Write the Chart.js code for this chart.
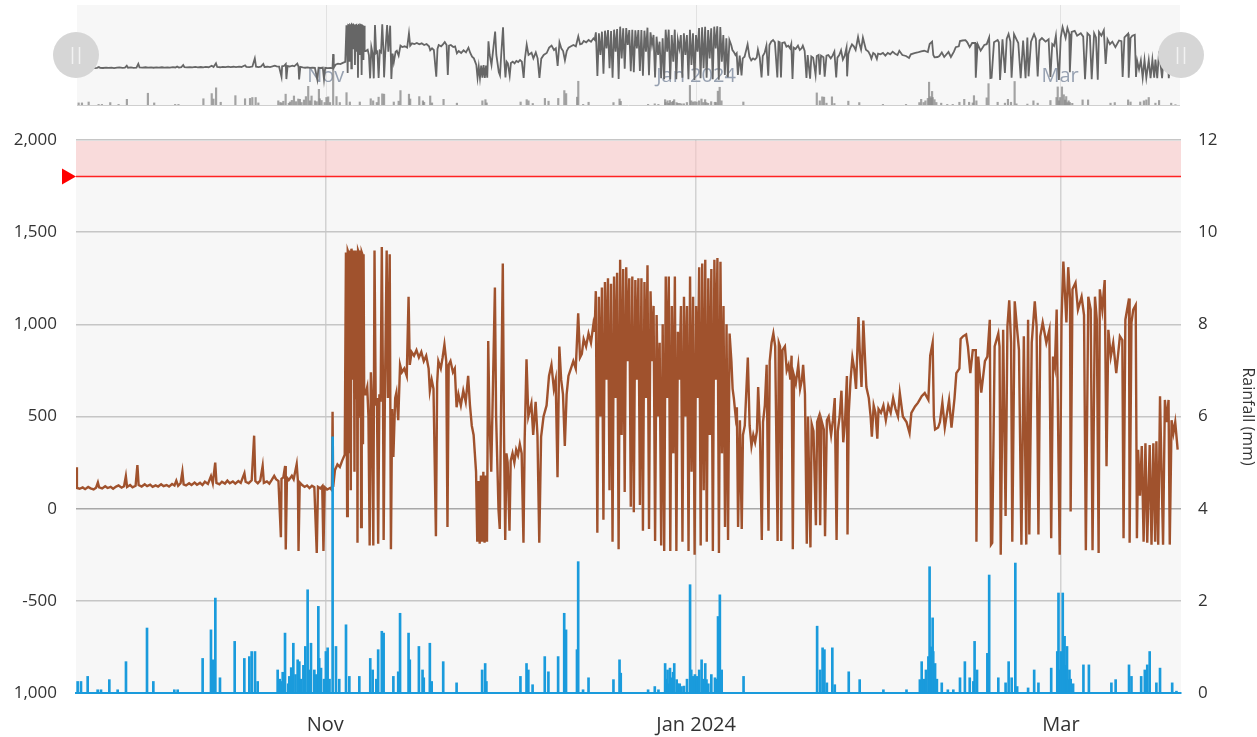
<!DOCTYPE html>
<html><head><meta charset="utf-8">
<script src="https://cdn.jsdelivr.net/npm/chart.js@4.4.0/dist/chart.umd.min.js"></script>
<style>
html,body{margin:0;padding:0;background:#fff;width:1257px;height:737px;overflow:hidden}
canvas{position:absolute;left:0;top:0}
</style></head><body>
<canvas id="main" width="1257" height="737"></canvas>
<canvas id="nav" width="1257" height="112"></canvas>
<script>
// x values are days since 2023-09-21 00:00
const xMin = 0, xMax = 181.75;
const xTickDays = [41, 102, 162];
const xTickLabels = ['Nov', 'Jan 2024', 'Mar'];
const yLeftTicks = [-1000, -500, 0, 500, 1000, 1500, 2000];
const yLeftLabels = ['1,000', '-500', '0', '500', '1,000', '1,500', '2,000'];
const yRightTicks = [0, 2, 4, 6, 8, 10, 12];
const alarmLevel = 1800, alarmBandTop = 2000;

// level series [day, value]
const levelSepOct = [[0,225],[0.15,112],[0.6,108],[1.1,115],[1.5,106],[2.0,118],[2.4,110],[2.9,104],[3.3,114],[3.6,142],[3.8,116],[4.3,110],[4.8,122],[5.2,112],[5.7,118],[6.1,108],[6.6,120],[7.0,126],[7.5,114],[7.9,122],[8.2,176],[8.4,118],[8.9,128],[9.3,116],[9.8,124],[10.1,236],[10.3,128],[10.8,120],[11.3,132],[11.7,122],[12.2,130],[12.6,118],[13.1,126],[13.5,120],[14.0,132],[14.4,122],[14.9,128],[15.3,120],[15.8,134],[16.2,126],[16.5,152],[16.8,124],[17.2,138],[17.5,200],[17.7,132],[18.1,126],[18.6,138],[19.0,128],[19.5,142],[19.9,130],[20.4,140],[20.8,128],[21.2,146],[21.7,134],[22.2,176],[22.5,138],[22.9,250],[23.1,140],[23.6,132],[24.0,146],[24.5,136],[24.9,152],[25.3,138],[25.8,148],[26.2,136],[26.7,150],[27.1,140],[27.7,192],[27.9,146],[28.4,138],[28.9,154],[29.3,396],[29.5,150],[29.9,138],[30.3,152],[30.7,232],[30.9,140],[31.4,148],[31.8,136],[32.2,156],[32.6,178],[32.9,160],[33.3,150],[33.7,-155],[33.8,162],[34.1,170],[34.4,232],[34.5,-222],[34.7,168],[35.0,155],[35.5,178],[35.8,160],[36.3,242],[36.5,150],[36.6,-230],[36.8,142],[37.2,128],[37.6,118],[38.0,126],[38.4,112],[38.8,124],[39.2,116],[39.6,-240],[39.8,118],[40.2,110],[40.5,122],[40.7,-230],[40.9,116],[41.3,104],[41.8,112],[42.1,100],[42.2,526],[42.3,118],[42.6,210],[43.0,240],[43.4,226],[43.8,262],[44.2,292]];
const levelNov = [[44.4,1390],[44.5,800],[44.6,-40],[44.7,1400],[44.8,1390],[44.9,300],[45.0,1400],[45.1,1380],[45.2,100],[45.3,1410],[45.4,1390],[45.5,700],[45.6,1400],[45.7,1380],[45.8,200],[45.9,1390],[46.0,1400],[46.1,600],[46.2,1380],[46.3,-185],[46.4,1400],[46.5,1390],[46.6,500],[46.7,1400],[46.8,1380],[46.9,-100],[47.0,1390],[47.1,1380],[47.2,350],[47.3,1380],[47.4,620],[47.6,620],[47.9,660],[48.1,500],[48.3,-200],[48.5,740],[48.7,560],[48.9,-200],[49.1,1400],[49.3,560],[49.5,600],[49.7,-190],[49.9,620],[50.1,580],[50.3,1420],[50.5,620],[50.6,-170],[50.8,590],[51.1,1400],[51.3,600],[51.6,1380],[51.8,-220],[52.0,540],[52.2,280],[52.5,600],[52.7,630],[53.0,480],[53.3,780],[53.6,740],[54.0,760],[54.4,720],[54.7,1150],[54.9,780],[55.2,850],[55.6,830],[56.0,860],[56.4,820],[56.8,850],[57.2,800],[57.6,830],[58.0,760],[58.2,640],[58.5,700],[58.8,650],[59.2,-150],[59.4,680],[59.6,800],[60.0,760],[60.3,820],[60.6,890],[60.9,800],[61.1,-100],[61.3,780],[61.6,800],[62.0,740],[62.3,760],[62.6,550],[62.9,620],[63.3,560],[63.7,640],[64.1,580],[64.5,720],[64.8,560],[65.1,450],[65.4,400],[65.6,300],[65.8,200],[66.0,-180],[66.2,150],[66.4,-190],[66.6,180],[66.8,-180],[67.0,200],[67.2,-185],[67.4,180],[67.6,-180],[67.8,910],[68.0,500],[68.3,200],[68.6,700],[68.9,1200],[69.1,500],[69.5,-10],[69.7,-110],[69.9,500]];
const levelDec = [[70.2,1330],[70.4,400],[70.6,-170],[70.8,300],[71.0,250],[71.3,-120],[71.5,260],[71.8,300],[72.1,250],[72.4,320],[72.7,290],[73.0,350],[73.3,300],[73.6,-185],[73.8,380],[74.1,810],[74.4,500],[74.9,570],[75.2,400],[75.6,580],[75.9,400],[76.2,-185],[76.5,390],[76.9,500],[77.4,560],[77.8,720],[78.2,780],[78.6,650],[78.9,700],[79.2,170],[79.5,880],[79.8,700],[80.1,620],[80.4,340],[80.7,620],[81.0,720],[81.4,760],[81.8,800],[82.2,760],[82.6,1060],[82.9,820],[83.2,840],[83.5,920],[83.9,880],[84.3,950],[84.7,900],[85.1,1000],[85.3,960],
[85.5,1180],[85.75,-130],[86.0,1150],[86.25,500],[86.5,1200],[86.75,-60],[87.0,1230],[87.25,700],[87.5,1250],[87.75,100],[88.0,1220],[88.25,-180],[88.5,1260],[88.75,600],[89.0,1280],[89.25,-220],[89.5,1350],[89.75,400],[90.0,1300],[90.25,90],[90.5,1310],[90.75,800],[91.0,1250],[91.25,10],[91.5,1260],[91.75,-20],[92.0,1240],[92.25,700],[92.5,1250],[92.75,20],[93.0,1250],[93.25,-120],[93.5,1230],[93.75,600],[94.0,1320],[94.25,-110],[94.5,1180],[94.75,800],[95.0,1100],[95.25,-175],[95.5,1050],[95.75,500],[96.0,900],[96.25,-200],[96.5,1000],[96.75,-230],[97.0,1260],[97.25,600],[97.5,1260],[97.75,-230],[98.0,1100],[98.25,300],[98.5,1260],[98.75,-230],[99.0,960],[99.25,700],[99.5,1100],[99.75,-180],[100.0,1150],[100.25,500],[100.5,1100],[100.75,-230],[101.0,1260],[101.25,200],[101.5,1150],[101.75,-250]];
const levelJan = [[102.0,1100],[102.25,600],[102.5,1310],[102.75,-200],[103.0,1330],[103.25,100],[103.5,1350],[103.75,-180],[104.0,1250],[104.25,400],[104.5,1300],[104.75,-230],[105.0,1350],[105.25,700],[105.5,1360],[105.75,-240],[106.0,1340],[106.25,300],[106.5,1100],[106.75,-100],[107.0,1000],[107.25,-170],[107.5,950],[107.8,800],[108.0,650],[108.2,600],[108.5,500],[108.7,550],[108.9,-100],[109.2,480],[109.5,-110],[109.7,400],[110.0,450],[110.5,820],[110.8,450],[111.1,340],[111.4,400],[111.7,360],[112.0,420],[112.2,660],[112.5,420],[112.8,-170],[113.0,470],[113.3,560],[113.6,780],[113.9,-120],[114.1,800],[114.4,900],[114.7,950],[115.0,880],[115.4,-175],[115.6,900],[115.8,880],[116.0,-175],[116.2,860],[116.6,880],[116.9,750],[117.2,780],[117.5,700],[117.7,830],[117.9,-220],[118.1,720],[118.4,680],[118.8,780],[119.1,650],[119.4,700],[119.6,780],[119.9,620],[120.2,-190],[120.4,500],[120.8,-210],[121.0,460],[121.3,420],[121.7,-90],[121.9,470],[122.2,500],[122.4,-90],[122.6,480],[123.0,430],[123.2,-150],[123.5,480],[123.8,500],[124.2,400],[124.5,480],[124.8,600],[125.1,-170],[125.3,420],[125.6,500],[125.9,640],[126.2,360],[126.5,480],[126.8,720],[126.9,-140],[127.1,520],[127.4,700],[127.7,820],[128.0,760],[128.3,650],[128.7,1040],[128.9,860],[129.2,660],[129.5,1020],[129.8,800],[130.0,660],[130.4,600],[130.7,500],[130.9,390],[131.2,560],[131.5,520],[131.8,380],[132.0,540],[132.4,520],[132.8,560]];
const levelFeb = [[133.2,480],[133.6,560],[134.0,520],[134.4,600],[134.8,540],[135.2,500],[135.5,627],[136.0,500],[136.6,470],[137.1,410],[137.4,520],[138.0,555],[138.5,575],[139.1,610],[139.6,627],[140.2,590],[140.5,830],[140.9,900],[141.1,500],[141.3,430],[141.8,440],[142.1,470],[142.5,575],[142.9,440],[143.6,590],[144.0,440],[144.5,600],[144.8,735],[145.3,760],[145.5,920],[145.9,935],[146.4,945],[146.7,880],[147.1,735],[147.5,860],[148.0,860],[148.1,-180],[148.4,825],[148.9,630],[149.5,800],[149.9,825],[150.3,1025],[150.5,-195],[150.7,-185],[151.1,880],[151.7,950],[151.9,880],[152.1,-250],[152.5,970],[152.9,-40],[153.2,990],[153.5,1130],[153.8,900],[154.0,-180],[154.4,1125],[154.8,970],[155.1,860],[155.5,-195],[155.9,935],[156.3,-195],[156.6,1025],[156.8,-140],[157.2,900],[157.7,1125],[158.0,990],[158.3,-140],[158.6,935],[159.0,1010],[159.6,900],[160.1,970],[160.4,-160],[160.7,825],[161.0,770],[161.3,1080],[161.8,-250]];
const levelMar = [[162.1,1025],[162.4,1340],[162.9,1010],[163.2,1310],[163.5,1140],[163.6,-15],[163.9,1190],[164.4,1225],[164.8,1080],[165.4,1150],[165.8,1050],[166.1,-225],[166.5,1150],[166.9,1080],[167.2,-225],[167.6,1150],[167.9,1025],[168.2,-240],[168.4,1190],[168.8,1080],[169.2,1240],[169.5,230],[169.8,970],[170.2,825],[170.6,900],[171.1,735],[171.7,935],[172.1,915],[172.3,-160],[172.6,1025],[173.2,1140],[173.3,-185],[173.6,1010],[173.9,1080],[174.3,1105],[174.5,-160],[174.7,320],[175.0,70],[175.3,340],[175.6,-180],[175.9,355],[176.2,-185],[176.6,345],[176.9,-195],[177.2,355],[177.5,-180],[177.7,365],[178.0,-195],[178.3,610],[178.8,-195],[179.1,590],[179.4,470],[179.7,590],[179.9,-195],[180.2,480],[180.5,410],[180.8,470],[181.2,320]];

// rainfall [day, mm]
const rainSepOct = [[0.27,0.25],[0.82,0.25],[1.92,0.36],[3.56,0.07],[4.11,0.07],[5.48,0.29],[6.85,0.07],[8.22,0.68],[11.68,1.41],[12.72,0.25],[16.17,0.07],[16.72,0.07],[20.83,0.75],[22.2,1.37],[22.48,0.72],[22.92,2.06],[23.68,0.33],[26.1,1.12],[27.69,0.75],[28.51,0.79],[28.89,0.9],[29.44,0.9],[29.88,0.25],[33.17,0.5],[33.5,0.3],[33.72,0.25],[34.0,0.45],[34.38,1.3],[34.9,0.2],[35.09,0.36],[35.4,0.55],[35.75,1.08],[36.1,0.4],[36.46,0.72],[36.73,0.68],[37.0,0.3],[37.4,0.6],[37.72,1.01],[38.1,2.24],[38.4,0.5],[38.65,1.08],[39.2,0.5],[39.5,0.4],[39.86,1.88],[40.0,0.75],[40.3,0.54],[40.8,0.3],[41.1,0.9],[41.39,0.98],[41.7,0.3]];
const rainNov = [[42.21,5.56],[42.76,1.01],[43.3,0.3],[44.41,1.48],[44.96,0.36],[46.6,0.36],[48.4,0.75],[48.8,0.5],[49.4,0.3],[49.7,0.94],[50.3,1.34],[50.6,1.3],[52.2,0.36],[53.0,0.46],[53.3,1.73],[54.7,1.3],[54.9,0.72],[56.4,1.01],[57.0,0.5],[57.2,0.33],[58.2,1.08],[58.5,0.25],[60.4,0.68],[62.6,0.22],[66.8,0.5],[67.3,0.64],[67.5,0.25]];
const rainDec = [[73.1,0.36],[74.1,0.64],[74.4,0.5],[75.1,0.18],[77.1,0.79],[77.7,0.46],[79.3,0.79],[80.3,1.73],[80.6,1.37],[82.4,0.94],[82.6,2.85],[83.4,0.07],[84.3,0.33],[88.4,0.29],[89.4,0.72],[89.6,0.43],[94.1,0.07],[95.2,0.14],[95.8,0.07],[96.9,0.64],[97.0,0.3],[97.3,0.5],[97.5,0.2],[97.7,0.54],[98.0,0.33],[98.2,0.45],[98.4,0.64],[98.8,0.29],[99.0,0.2],[99.3,0.2],[99.6,0.14],[100.0,0.15],[100.5,0.3],[101.0,2.35],[101.2,0.5],[101.5,0.36],[101.8,0.4]];
const rainJan = [[102.1,0.36],[102.5,0.5],[102.9,0.72],[103.2,0.3],[103.5,0.64],[103.7,0.29],[104.0,0.2],[104.5,0.4],[105.1,0.33],[105.3,0.3],[105.6,1.66],[105.9,2.13],[106.2,0.5],[109.8,0.36],[121.9,1.45],[122.4,0.5],[122.8,0.98],[123.1,0.94],[123.5,0.22],[124.4,0.98],[124.8,0.18],[127.1,0.46],[128.9,0.29],[132.8,0.07]];
const rainFebMar = [[136.6,0.07],[138.8,0.29],[139.1,0.68],[139.5,0.3],[139.8,0.5],[140.2,0.79],[140.4,2.74],[140.6,1.0],[140.7,0.8],[140.9,1.63],[141.0,0.9],[141.3,0.64],[141.6,0.3],[142.4,0.22],[143.4,0.07],[144.3,0.07],[145.4,0.33],[146.2,0.68],[147.0,0.33],[147.6,0.25],[147.8,1.12],[148.2,0.5],[149.9,0.86],[150.2,2.56],[151.7,0.33],[152.9,0.22],[153.4,0.68],[153.9,0.33],[154.5,2.82],[154.8,0.14],[156.6,0.11],[157.6,0.5],[158.3,0.22],[160.4,0.54],[161.4,0.9],[161.6,2.17],[161.8,0.5],[162.0,0.9],[162.3,2.17],[162.6,1.23],[162.8,0.6],[163.0,1.01],[163.2,0.29],[163.4,0.5],[163.6,0.3],[164.0,0.2],[165.7,0.61],[166.6,0.61],[170.3,0.22],[171.0,0.29],[173.2,0.61],[173.6,0.36],[175.2,0.36],[175.8,0.5],[176.2,0.61],[176.6,0.9],[177.7,0.22],[178.3,0.54],[180.3,0.22],[181.0,0.04]];

const toPts = a => a.map(p => ({x: p[0], y: p[1]}));
const levelData = toPts([].concat(levelSepOct, levelNov, levelDec, levelJan, levelFeb, levelMar));
const rainData = toPts([].concat(rainSepOct, rainNov, rainDec, rainJan, rainFebMar));

const BROWN = '#a0522d', RAIN = '#1a9bdc', FONT = '"Open Sans", sans-serif';

const mainDecor = {
  id: 'mainDecor',
  beforeDraw(chart) {
    const {ctx, chartArea: a} = chart;
    ctx.save(); ctx.fillStyle = '#f7f7f7';
    ctx.fillRect(a.left, a.top, a.right - a.left, a.bottom - a.top); ctx.restore();
  },
  beforeDatasetsDraw(chart) {
    const {ctx, chartArea: a, scales} = chart;
    const y1 = scales.y.getPixelForValue(alarmBandTop), y2 = scales.y.getPixelForValue(alarmLevel);
    ctx.save(); ctx.fillStyle = 'rgba(250,200,200,0.6)';
    ctx.fillRect(a.left, y1 + 1, a.right - a.left, y2 - y1 - 1); ctx.restore();
  },
  afterDatasetsDraw(chart) {
    const {ctx, chartArea: a, scales} = chart;
    const y = Math.round(scales.y.getPixelForValue(alarmLevel)) - 0.5;
    ctx.save();
    ctx.strokeStyle = '#f22'; ctx.lineWidth = 1.6;
    ctx.beginPath(); ctx.moveTo(a.left, y); ctx.lineTo(a.right, y); ctx.stroke();
    ctx.fillStyle = '#ff0000';
    ctx.beginPath(); ctx.moveTo(a.left, y); ctx.lineTo(a.left - 14, y - 8); ctx.lineTo(a.left - 14, y + 8); ctx.closePath(); ctx.fill();
    ctx.restore();
  }
};

new Chart(document.getElementById('main'), {
  type: 'line',
  data: { datasets: [
    { type: 'bar', label: 'Rainfall (mm)', data: rainData, yAxisID: 'yR', backgroundColor: RAIN, borderWidth: 0, barThickness: 2, order: 0 },
    { type: 'line', label: 'Level', data: levelData, yAxisID: 'y', borderColor: BROWN, borderWidth: 2.4, pointRadius: 0, tension: 0, order: 1 }
  ]},
  options: {
    responsive: false, animation: false, devicePixelRatio: 1,
    layout: { padding: { top: 140, left: 0, right: 0, bottom: 0 } },
    plugins: { legend: { display: false }, tooltip: { enabled: false } },
    scales: {
      x: { type: 'linear', min: xMin, max: xMax, offset: false,
        afterFit(s) { s.height = 44; },
        afterBuildTicks(s) { s.ticks = xTickDays.map(v => ({value: v})); },
        ticks: { callback: (v, i) => xTickLabels[i], font: { family: FONT, size: 20 }, color: '#333', padding: 20, maxRotation: 0, autoSkip: false },
        grid: { color: '#d2d2d2', lineWidth: 1.5, drawTicks: false, offset: false },
        border: { display: true, color: RAIN, width: 2 } },
      y: { position: 'left', min: -1000, max: 2000,
        afterFit(s) { s.width = 76; },
        afterBuildTicks(s) { s.ticks = yLeftTicks.map(v => ({value: v})); },
        ticks: { callback: (v, i) => yLeftLabels[i], font: { family: FONT, size: 17 }, color: '#333', padding: 19 },
        grid: { color: c => c.tick && c.tick.value === 0 ? '#a8a8a8' : '#c6c6c6', lineWidth: 1.6, drawTicks: false },
        border: { display: false } },
      yR: { position: 'right', min: 0, max: 12,
        afterFit(s) { s.width = 76; },
        afterBuildTicks(s) { s.ticks = yRightTicks.map(v => ({value: v})); },
        ticks: { font: { family: FONT, size: 17 }, color: '#333', padding: 17 },
        grid: { display: false, drawTicks: false }, border: { display: false },
        title: { display: true, text: 'Rainfall (mm)', font: { family: FONT, size: 16 }, color: '#333', padding: { top: 0, bottom: 0 } } }
    }
  },
  plugins: [mainDecor]
});

const navDecor = {
  id: 'navDecor',
  beforeDraw(chart) {
    const {ctx, chartArea: a, scales} = chart;
    ctx.save(); ctx.fillStyle = '#f7f7f7';
    ctx.fillRect(a.left, a.top, a.right - a.left, a.bottom - a.top);
    ctx.strokeStyle = '#e2e2e2'; ctx.lineWidth = 1;
    xTickDays.forEach(d => { const x = Math.round(scales.x.getPixelForValue(d)) + 0.5;
      ctx.beginPath(); ctx.moveTo(x, a.top); ctx.lineTo(x, a.bottom); ctx.stroke(); });
    ctx.strokeStyle = '#cfcfcf';
    ctx.beginPath(); ctx.moveTo(a.left, a.bottom + 0.5); ctx.lineTo(a.right, a.bottom + 0.5); ctx.stroke();
    ctx.restore();
  },
  beforeDatasetsDraw(chart) {
    const {ctx, scales} = chart;
    ctx.save(); ctx.fillStyle = '#97a1b1'; ctx.font = '20px ' + FONT;
    ctx.textAlign = 'center'; ctx.textBaseline = 'middle';
    xTickDays.forEach((d, i) => ctx.fillText(xTickLabels[i], scales.x.getPixelForValue(d), 76));
    ctx.restore();
  },
  afterDraw(chart) {
    const {ctx, chartArea: a} = chart;
    ctx.save();
    [a.left - 1, a.right + 1].forEach(cx => {
      ctx.fillStyle = '#d6d6d6';
      ctx.beginPath(); ctx.arc(cx, 55, 23, 0, Math.PI * 2); ctx.fill();
      ctx.strokeStyle = '#f2f2f2'; ctx.lineWidth = 1.5;
      [-3.5, 3.5].forEach(o => { ctx.beginPath(); ctx.moveTo(cx + o, 47); ctx.lineTo(cx + o, 64); ctx.stroke(); });
    });
    ctx.restore();
  }
};

new Chart(document.getElementById('nav'), {
  type: 'line',
  data: { datasets: [
    { type: 'bar', data: rainData, yAxisID: 'yR', backgroundColor: 'rgba(140,140,140,0.8)', borderWidth: 0, barThickness: 1.5, order: 1 },
    { type: 'line', data: levelData, yAxisID: 'y', borderColor: '#666666', borderWidth: 1.8, pointRadius: 0, tension: 0, order: 0 }
  ]},
  options: {
    responsive: false, animation: false, devicePixelRatio: 1,
    layout: { padding: { left: 77, right: 77, top: 5, bottom: 7 } },
    plugins: { legend: { display: false }, tooltip: { enabled: false } },
    scales: {
      x: { type: 'linear', min: xMin, max: xMax, display: false, offset: false },
      y: { min: -1000, max: 2000, display: false },
      yR: { min: 0, max: 12, display: false }
    }
  },
  plugins: [navDecor]
});
</script>
</body></html>
